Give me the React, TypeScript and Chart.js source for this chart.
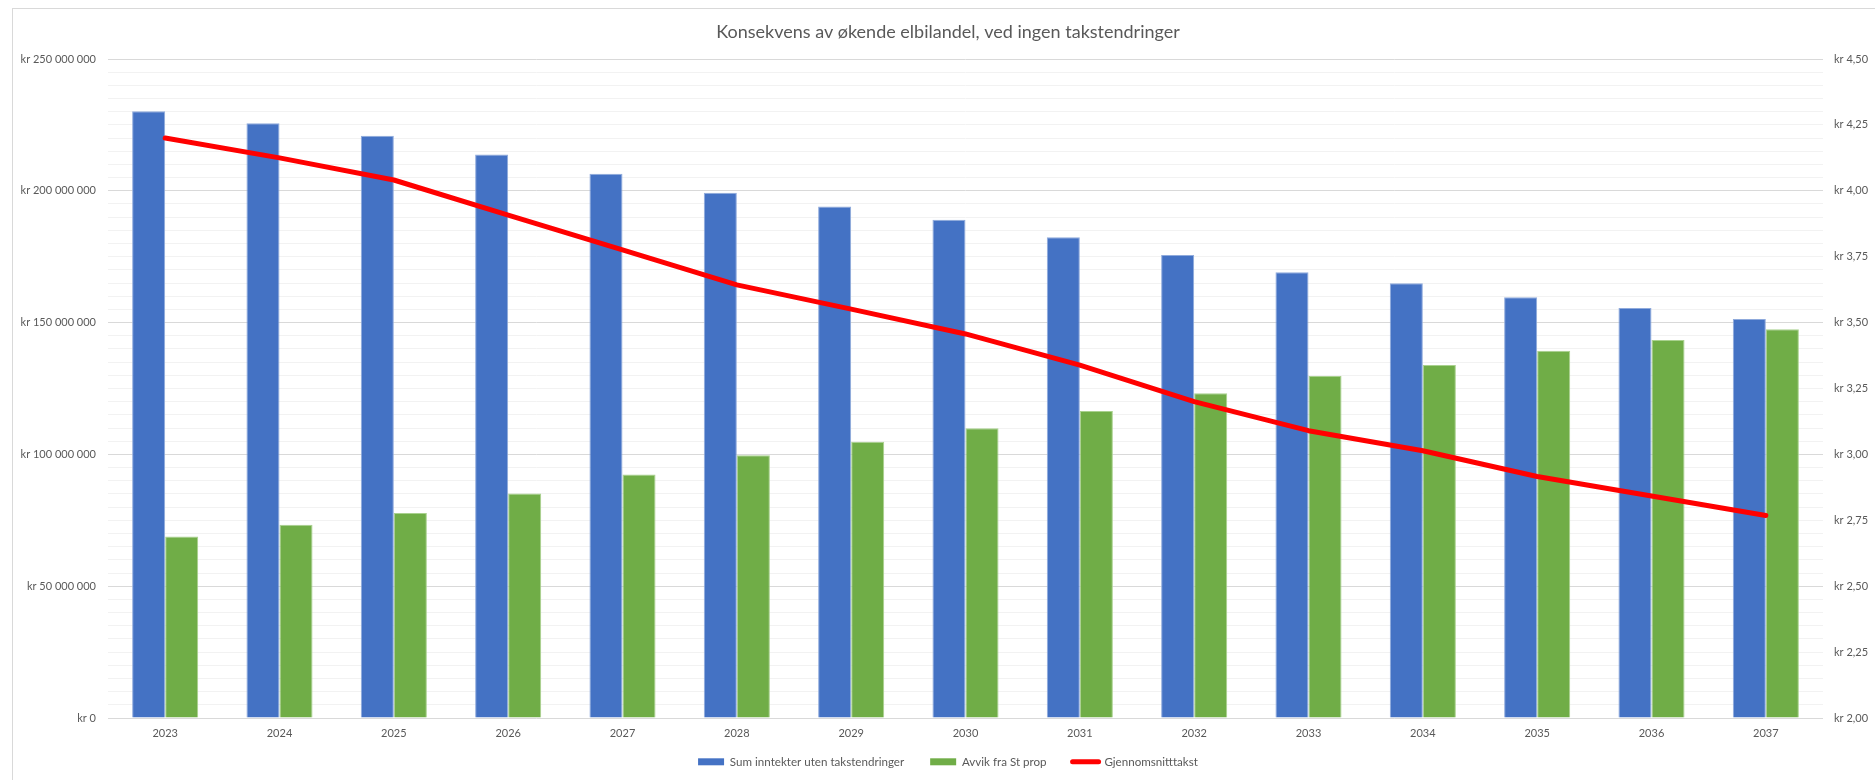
import React, { useEffect, useRef } from 'react';
import { Chart, registerables } from 'chart.js';

Chart.register(...registerables);

const titleText = 'Konsekvens av økende elbilandel, ved ingen takstendringer';
const years = ['2023', '2024', '2025', '2026', '2027', '2028', '2029', '2030', '2031', '2032', '2033', '2034', '2035', '2036', '2037'];
const sumInntekter = [230200000, 225600000, 220900000, 213800000, 206500000, 199300000, 194000000, 189000000, 182400000, 175600000, 169100000, 164900000, 159600000, 155500000, 151400000];
const avvikStProp = [68900000, 73300000, 77800000, 85200000, 92400000, 99700000, 104800000, 109900000, 116500000, 123200000, 129700000, 133900000, 139300000, 143400000, 147500000];
const gjennomsnittstakst = [4.2, 4.125, 4.041, 3.908, 3.776, 3.643, 3.551, 3.457, 3.339, 3.2, 3.09, 3.014, 2.916, 2.842, 2.768];
const seriesNames = ['Sum inntekter uten takstendringer', 'Avvik fra St prop', 'Gjennomsnitttakst'];
const leftMin = 0;
const leftMax = 250000000;
const leftMinorStep = 5000000;
const leftMajorStep = 50000000;
const rightMin = 2;
const rightMax = 4.5;
const rightStep = 0.25;

const BLUE = '#4472C4';
const GREEN = '#70AD47';
const RED = '#FF0000';
const TEXT = '#595959';
const FONT = 'Lato, "Open Sans", sans-serif';

function formatKr(v: number): string {
  const s = Math.round(v).toString();
  const parts: string[] = [];
  for (let i = s.length; i > 0; i -= 3) {
    parts.unshift(s.substring(Math.max(0, i - 3), i));
  }
  return 'kr ' + parts.join(' ');
}

// Keeps the legend compact and places it where the reference has it.
const legendPlacement = {
  id: 'legendPlacement',
  beforeLayout(chart: any) {
    const lg: any = chart.legend;
    if (lg && !lg.__patched) {
      const orig = lg.fit.bind(lg);
      lg.fit = function () {
        orig();
        this.height = 39;
      };
      lg.__patched = true;
    }
  },
  afterLayout(chart: any) {
    const lg: any = chart.legend;
    if (lg) {
      const h = lg.height;
      lg.top = 721;
      lg.bottom = 721 + h;
    }
  },
};

export default function App() {
  const ref = useRef<HTMLCanvasElement>(null);

  useEffect(() => {
    const canvas = ref.current;
    if (!canvas) return;
    const chart = new Chart(canvas, {
      type: 'bar',
      data: {
        labels: years,
        datasets: [
          {
            type: 'bar',
            label: seriesNames[0],
            data: sumInntekter,
            backgroundColor: BLUE,
            borderColor: '#8FAADC',
            borderWidth: 1,
            yAxisID: 'y',
            order: 1,
            categoryPercentage: 0.578,
            barPercentage: 1,
          },
          {
            type: 'bar',
            label: seriesNames[1],
            data: avvikStProp,
            backgroundColor: GREEN,
            borderColor: '#A9D18E',
            borderWidth: 1,
            yAxisID: 'y',
            order: 1,
            categoryPercentage: 0.578,
            barPercentage: 1,
          },
          {
            type: 'line',
            label: seriesNames[2],
            data: gjennomsnittstakst,
            borderColor: RED,
            backgroundColor: RED,
            borderWidth: 5,
            borderCapStyle: 'round',
            borderJoinStyle: 'round',
            pointRadius: 0,
            pointHoverRadius: 0,
            tension: 0,
            fill: false,
            yAxisID: 'y1',
            order: 0,
          },
        ],
      },
      options: {
        responsive: false,
        animation: false,
        devicePixelRatio: 1,
        layout: { padding: { left: 0, right: 0, top: 0, bottom: 0 } },
        plugins: {
          title: {
            display: true,
            text: titleText,
            color: TEXT,
            font: { family: FONT, size: 18, weight: 'normal' },
            padding: { top: 12.2, bottom: 16.2 },
          },
          legend: {
            display: true,
            position: 'bottom',
            labels: {
              color: TEXT,
              font: { family: FONT, size: 11.6 },
              usePointStyle: true,
              pointStyleWidth: 26,
              boxWidth: 26,
              boxHeight: 7,
              padding: 26,
              sort: (a: any, b: any) => a.datasetIndex - b.datasetIndex,
              generateLabels: (ch: any) =>
                ch.data.datasets.map((ds: any, i: number) => ({
                  text: ds.label,
                  fillStyle: i === 0 ? BLUE : i === 1 ? GREEN : RED,
                  strokeStyle: i === 0 ? BLUE : i === 1 ? GREEN : RED,
                  lineWidth: i === 2 ? 5 : 0,
                  lineCap: 'round',
                  pointStyle: i === 2 ? 'line' : 'rect',
                  fontColor: TEXT,
                  hidden: false,
                  datasetIndex: i,
                })),
            },
          },
          tooltip: { enabled: false },
        },
        scales: {
          x: {
            grid: { display: false, drawTicks: false },
            border: { display: false },
            ticks: {
              color: TEXT,
              font: { family: FONT, size: 11 },
              padding: 9,
              maxRotation: 0,
            },
            afterFit: (scale: any) => {
              scale.height = 23;
            },
          },
          y: {
            position: 'left',
            min: leftMin,
            max: leftMax,
            grid: {
              drawTicks: false,
              color: (ctx: any) => {
                const v = ctx.tick ? ctx.tick.value : 0;
                return Math.abs(v % leftMajorStep) < 1 ? '#D9D9D9' : '#F2F2F2';
              },
              lineWidth: 1,
            },
            border: { display: false },
            ticks: {
              stepSize: leftMinorStep,
              maxTicksLimit: 1000,
              autoSkip: false,
              color: TEXT,
              font: { family: FONT, size: 11 },
              padding: 12,
              callback: (value: any) => {
                const v = Number(value);
                return Math.abs(v % leftMajorStep) < 1 ? formatKr(v) : '';
              },
            },
            afterFit: (scale: any) => {
              scale.width = 95;
            },
          },
          y1: {
            position: 'right',
            min: rightMin,
            max: rightMax,
            grid: { display: false, drawTicks: false },
            border: { display: false },
            ticks: {
              stepSize: rightStep,
              autoSkip: false,
              color: TEXT,
              font: { family: FONT, size: 11 },
              padding: 11,
              callback: (value: any) => 'kr ' + Number(value).toFixed(2).replace('.', ','),
            },
            afterFit: (scale: any) => {
              scale.width = 60;
            },
          },
        },
      },
      plugins: [legendPlacement],
    } as any);
    return () => chart.destroy();
  }, []);

  return (
    <div style={{ position: 'fixed', left: 0, top: 0, width: 1875, height: 780, overflow: 'hidden', background: '#ffffff' }}>
      <div
        style={{
          position: 'absolute',
          left: 12,
          top: 8,
          width: 1872,
          height: 800,
          border: '1px solid #D9D9D9',
          boxSizing: 'border-box',
          background: '#ffffff',
        }}
      >
        <canvas ref={ref} width={1870} height={771} style={{ display: 'block', width: 1870, height: 771 }} />
      </div>
    </div>
  );
}
